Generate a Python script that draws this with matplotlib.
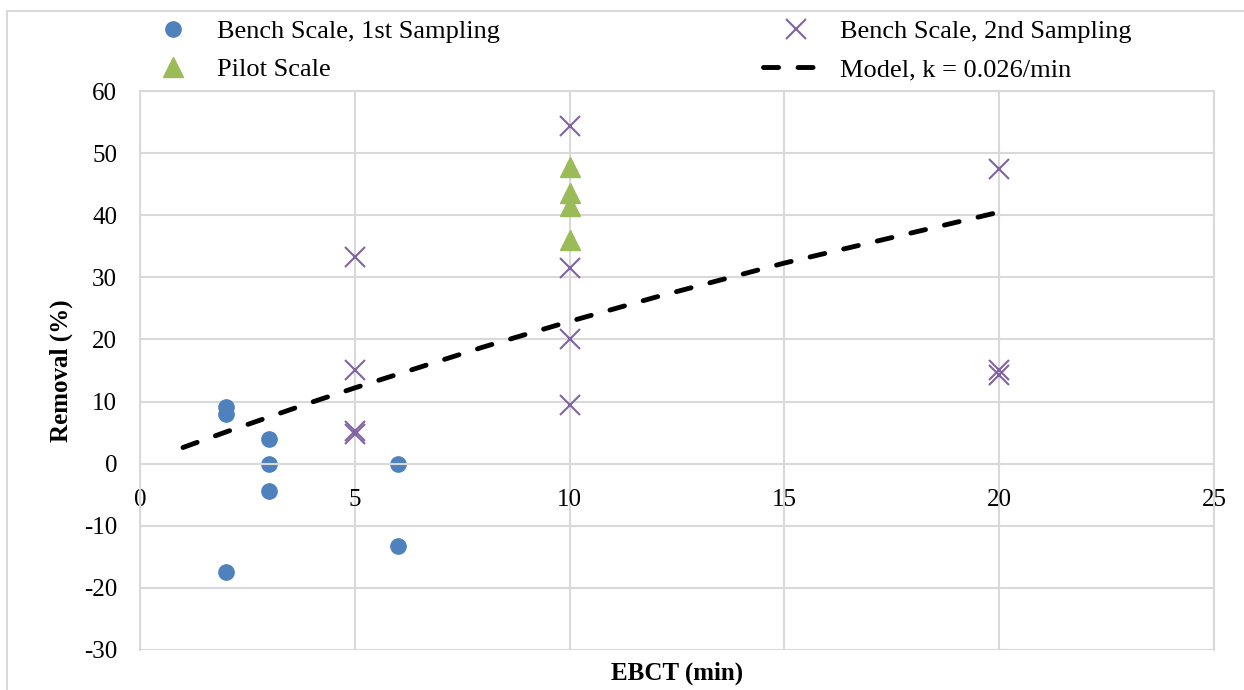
import matplotlib.pyplot as plt
from matplotlib.patches import Rectangle

# Bench scale, 1st sampling
bench1_x = [2, 2, 2, 3, 3, 3, 6, 6]
bench1_y = [9.1, 8.0, -17.5, 3.9, 0.0, -4.4, 0.0, -13.2]

# Bench scale, 2nd sampling
bench2_x = [5, 5, 5, 5, 10, 10, 10, 10, 20, 20, 20]
bench2_y = [33.3, 15.0, 5.3, 4.7, 54.3, 31.5, 20.0, 9.5, 47.4, 15.0, 14.3]

# Pilot scale
pilot_x = [10, 10, 10, 10]
pilot_y = [47.8, 43.5, 41.5, 36.0]

# Model curve
model_x = [1, 2, 3, 4, 5, 6, 8, 10, 12, 15, 20]
model_y = [2.6, 5.1, 7.5, 9.9, 12.2, 14.4, 18.8, 22.9, 26.8, 32.3, 40.5]

plt.rcParams['font.family'] = ['Liberation Serif', 'DejaVu Serif']
plt.rcParams['font.size'] = 18
plt.rcParams['axes.unicode_minus'] = False

fig = plt.figure(figsize=(12.44, 6.9), dpi=100)
ax = fig.add_axes([140 / 1244, 1 - 650 / 690, (1214 - 140) / 1244, (650 - 91) / 690])

grid_c = '#d9d9d9'
ax.set_xlim(0, 25)
ax.set_ylim(-30, 60)
ax.set_xticks(range(0, 26, 5))
ax.set_yticks(range(-30, 61, 10))
ax.grid(True, color=grid_c, linewidth=1.5)
ax.set_axisbelow(True)
for s in ax.spines.values():
    s.set_color(grid_c)
    s.set_linewidth(1.5)
# horizontal axis crosses at y = 0 (Excel style)
ax.spines['bottom'].set_position(('data', 0))
ax.axhline(-30, color=grid_c, linewidth=1.5, zorder=0.5)
ax.tick_params(axis='x', length=0, pad=18, labelsize=18)
ax.tick_params(axis='y', length=0, pad=16.5, labelsize=18)

ax.plot(bench1_x, bench1_y, 'o', color='#4f81bd', markersize=11, linestyle='none',
        label='Bench Scale, 1st Sampling')
ax.plot(bench2_x, bench2_y, 'x', color='#8064a2', markersize=15, markeredgewidth=1.5,
        linestyle='none', label='Bench Scale, 2nd Sampling')
ax.plot(pilot_x, pilot_y, '^', color='#9bbb59', markersize=14, linestyle='none',
        label='Pilot Scale')
ax.plot(model_x, model_y, color='black', linewidth=3.5, dashes=(3.1, 4),
        solid_capstyle='round', dash_capstyle='round', label='Model, k = 0.026/min')

ax.set_xlabel('EBCT (min)', fontweight='bold', fontsize=18)
ax.xaxis.set_label_coords(0.5, -0.02)
ax.set_ylabel('Removal (%)', fontweight='bold', fontsize=18)
ax.yaxis.set_label_coords(-0.062, 0.5)

handles, labels = ax.get_legend_handles_labels()
# order: row1 = bench1, bench2 ; row2 = pilot, model
order = [0, 2, 1, 3]
fig.legend([handles[i] for i in order], [labels[i] for i in order],
           ncol=2, loc='upper left', bbox_to_anchor=(140 / 1244, 1 - 20 / 690),
           frameon=False, fontsize=19, columnspacing=10.0, handlelength=2.5,
           handletextpad=0.4, labelspacing=0.55, borderpad=0, borderaxespad=0)

# outer chart frame
fig.patches.append(Rectangle((7 / 1244, -0.1), 1.2, 1 - 11 / 690 + 0.1,
                             transform=fig.transFigure, fill=False,
                             edgecolor=grid_c, linewidth=1.5))

fig.savefig('out.png', dpi=100)
